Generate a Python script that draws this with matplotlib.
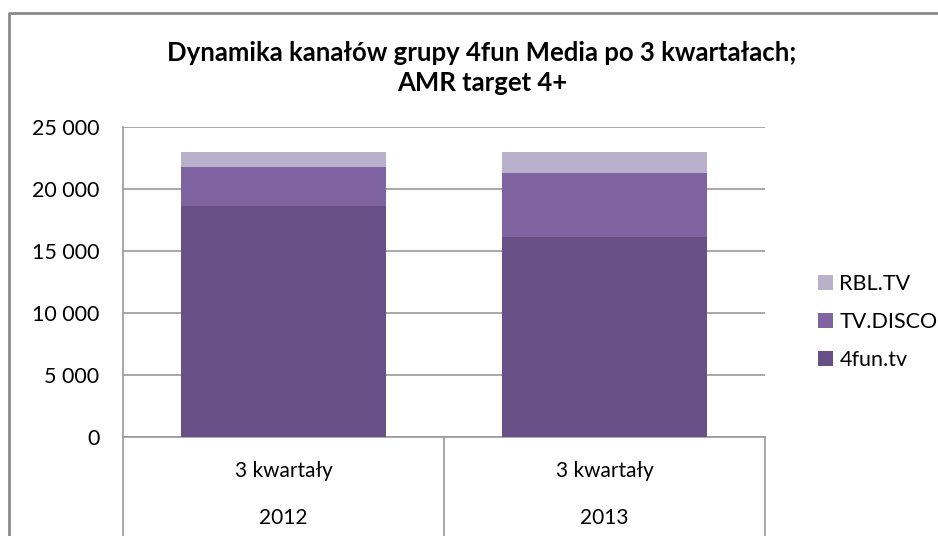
import matplotlib.pyplot as plt
from matplotlib.lines import Line2D

plt.rcParams['font.family'] = ['Lato', 'DejaVu Sans']

# dane
periods = ["3 kwartały", "3 kwartały"]
years = ["2012", "2013"]
fun_tv = [18600, 16130]
tv_disco = [3200, 5140]
rbl_tv = [1160, 1690]

series_names = ["4fun.tv", "TV.DISCO", "RBL.TV"]
colors = ["#685086", "#8064A2", "#B9B0CB"]
yticks = [0, 5000, 10000, 15000, 20000, 25000]

fig = plt.figure(figsize=(9.38, 5.36), dpi=100)
W, H = 938, 536
ax = fig.add_axes([123 / W, (H - 437) / H, 642 / W, 310 / H])

x = list(range(len(years)))
bottom = [0] * len(years)
for vals, name, col in zip([fun_tv, tv_disco, rbl_tv], series_names, colors):
    ax.bar(x, vals, width=0.64, bottom=bottom, color=col, label=name, zorder=3)
    bottom = [b + v for b, v in zip(bottom, vals)]

ax.set_xlim(-0.5, len(years) - 0.5)
ax.set_ylim(0, 25000)
ax.set_yticks(yticks)
ax.set_yticklabels([f"{v:,}".replace(",", " ") for v in yticks], fontsize=15.5)
ax.tick_params(axis='y', length=0, pad=17)
ax.set_xticks([])
ax.grid(axis='y', color='#9a9a9a', linewidth=1.2, zorder=0)
for s in ['top', 'right']:
    ax.spines[s].set_visible(False)
for s in ['left', 'bottom']:
    ax.spines[s].set_color('#9a9a9a')
    ax.spines[s].set_linewidth(1.2)

# etykiety osi x w formie tabeli
trans = ax.get_xaxis_transform()
for i in range(len(years)):
    ax.text(i, -0.11, periods[i], transform=trans, ha='center', va='center', fontsize=15)
    ax.text(i, -0.262, years[i], transform=trans, ha='center', va='center', fontsize=15)
for xb in [-0.5, 0.5, 1.5]:
    ax.add_line(Line2D([xb, xb], [0, -0.33], transform=trans, color='#9a9a9a',
                       linewidth=1.2, clip_on=False))

fig.text(482 / W, 1 - 68 / H, "Dynamika kanałów grupy 4fun Media po 3 kwartałach;\nAMR target 4+",
         ha='center', va='center', fontsize=18.5, fontweight='bold', linespacing=1.3)

handles, labels = ax.get_legend_handles_labels()
fig.legend(handles[::-1], labels[::-1], loc='center left', bbox_to_anchor=(807 / W, 1 - 322 / H),
           frameon=False, fontsize=15.5, handlelength=0.7, handleheight=0.7, borderpad=0,
           handletextpad=0.3, labelspacing=0.85)

# ramka wykresu (lewa i górna krawędź)
fig.add_artist(Line2D([9 / W, 9 / W, 1], [0, 1 - 13 / H, 1 - 13 / H], transform=fig.transFigure,
                      color='#8a8a8a', linewidth=2))

fig.savefig("out.png", dpi=100)
